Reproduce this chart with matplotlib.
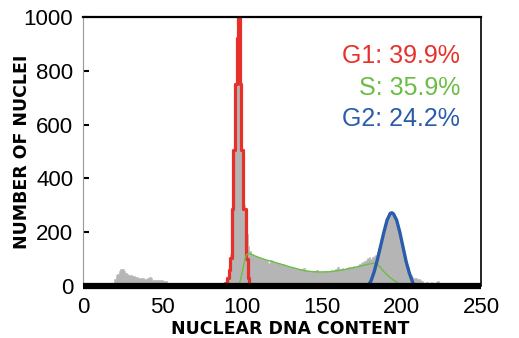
import matplotlib
matplotlib.use('Agg')

import numpy as np
import matplotlib.pyplot as plt

# Histogram channels (DNA content) and counts per channel
channel = np.arange(250)
counts = [
    0, 0, 0, 0, 0, 0, 0, 0, 0, 0,
    0, 0, 0, 0, 0, 0, 0, 0, 0, 8,
    25, 40, 45, 55, 62, 62, 55, 50, 45, 42,
    40, 38, 38, 35, 33, 30, 30, 28, 28, 26,
    25, 28, 32, 30, 24, 22, 22, 22, 21, 21,
    21, 20, 18, 10, 0, 0, 0, 0, 0, 0,
    0, 0, 0, 0, 0, 0, 0, 0, 0, 0,
    0, 0, 0, 0, 0, 0, 0, 0, 0, 0,
    0, 0, 0, 0, 0, 0, 0, 0, 0, 5,
    15, 35, 70, 120, 280, 500, 745, 915, 990, 745,
    500, 300, 290, 195, 150, 130, 118, 115, 113, 110,
    108, 105, 104, 102, 100, 98, 92, 85, 95, 92,
    90, 88, 87, 85, 83, 82, 80, 79, 76, 74,
    72, 71, 69, 67, 66, 64, 63, 62, 62, 66,
    58, 57, 56, 55, 54, 56, 54, 58, 54, 53,
    55, 53, 57, 54, 56, 54, 60, 56, 58, 62,
    70, 60, 62, 68, 63, 65, 66, 70, 68, 70,
    76, 72, 75, 78, 80, 84, 88, 92, 98, 103,
    106, 102, 108, 112, 115, 125, 140, 160, 185, 205,
    228, 248, 262, 268, 262, 266, 255, 240, 220, 195,
    165, 140, 112, 90, 70, 52, 40, 33, 30, 28,
    27, 25, 24, 18, 12, 10, 15, 10, 8, 15,
    10, 5, 16, 18, 10, 0, 0, 0, 0, 0,
    0, 0, 0, 0, 0, 0, 0, 0, 0, 0,
    0, 0, 0, 0, 0, 0, 0, 0, 0, 0,
]

# G1 fit (per channel)
g1_ch = [89, 90, 91, 92, 93, 94, 95, 96, 97, 98, 99, 100, 101, 102, 103, 104, 105]
g1_val = [0, 10, 30, 60, 105, 285, 505, 750, 920, 995, 750, 505, 285, 285, 100, 30, 0]

# S-phase fit
s_ch = [98, 99, 100, 101, 102, 103, 105, 108, 111, 115, 120, 125, 130, 135, 140,
        145, 150, 155, 160, 165, 170, 175, 180, 183, 185, 187, 189, 191, 193,
        195, 197, 200]
s_val = [5, 25, 50, 80, 105, 118, 120, 112, 105, 97, 89, 80, 71, 63, 56,
         53, 52, 53, 57, 62, 68, 75, 82, 85, 80, 68, 53, 42, 31,
         22, 15, 5]

# G2 fit
g2_ch = [179, 181, 183, 185, 187, 189, 191, 193, 194, 195, 197, 199, 201, 203, 205, 207, 208]
g2_val = [0, 20, 55, 100, 150, 200, 245, 270, 272, 268, 245, 200, 145, 90, 48, 15, 0]

labels = ['G1: 39.9%', 'S: 35.9%', 'G2: 24.2%']
label_colors = ['#e8302a', '#6cbd45', '#2b5cab']

fig = plt.figure(figsize=(5.19, 3.38), dpi=100)
ax = fig.add_axes([0.1599, 0.1538, 0.7669, 0.7964])

ax.fill_between(channel, counts, step='mid', facecolor='#b5b5b5',
                edgecolor='#b5b5b5', lw=0.4)
ax.plot(g1_ch, g1_val, drawstyle='steps-mid', color=label_colors[0], lw=2.3)
ax.plot(s_ch, s_val, color=label_colors[1], lw=1.0)
ax.plot(g2_ch, g2_val, color=label_colors[2], lw=2.4)

ax.set_xlim(0, 250)
ax.set_ylim(0, 1000)
ax.set_xticks([0, 50, 100, 150, 200, 250])
ax.set_yticks([0, 200, 400, 600, 800, 1000])

for lab in ax.get_xticklabels() + ax.get_yticklabels():
    lab.set_fontfamily('Liberation Sans')
    lab.set_fontsize(16)
ax.tick_params(axis='x', length=0, pad=8)
ax.tick_params(axis='y', direction='in', length=4, width=1.5, pad=7)

ax.spines['left'].set_color('#999999')
ax.spines['left'].set_linewidth(0.8)
ax.spines['top'].set_linewidth(1.6)
ax.spines['right'].set_linewidth(1.2)
ax.spines['bottom'].set_linewidth(4.5)
ax.spines['bottom'].set_capstyle('butt')

ax.set_xlabel('NUCLEAR DNA CONTENT', fontsize=12.5, fontweight='bold', family='DejaVu Sans')
ax.set_ylabel('NUMBER OF NUCLEI', fontsize=12.5, fontweight='bold', family='DejaVu Sans')
ax.xaxis.set_label_coords(0.52, -0.125)
ax.yaxis.set_label_coords(-0.131, 0.5)

ys = [0.828, 0.7095, 0.594]
for txt, c, y in zip(labels, label_colors, ys):
    ax.text(0.947, y, txt, transform=ax.transAxes, ha='right', va='baseline',
            color=c, fontsize=18, family='Liberation Sans')

fig.savefig('out.png', dpi=100)
